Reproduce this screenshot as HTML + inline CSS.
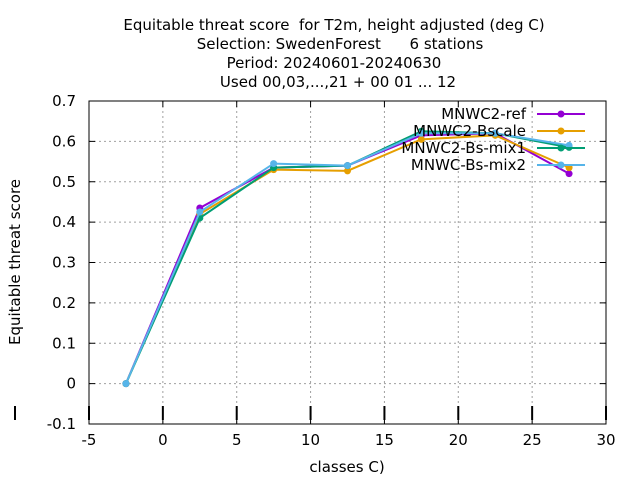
<!DOCTYPE html>
<html><head><meta charset="utf-8"><style>
body{margin:0;background:#fff}
svg{display:block;font-family:"DejaVu Sans",sans-serif}
text{white-space:pre}
</style></head><body>
<svg id="chart" width="640" height="480">
<g font-size="15" text-anchor="middle" fill="#000">
<text x="334" y="30">Equitable threat score  for T2m, height adjusted (deg C)</text>
<text x="340" y="49">Selection: SwedenForest      6 stations</text>
<text x="334" y="68">Period: 20240601-20240630</text>
<text x="338" y="87">Used 00,03,...,21 + 00 01 ... 12</text>
</g>
<g id="grid"></g>
<g id="axes"></g>
<g id="series"></g>
<g id="legend"></g>
<text x="20" y="262" font-size="15" text-anchor="middle" transform="rotate(-90 20 262)">Equitable threat score</text>
<text x="347" y="472" font-size="15" text-anchor="middle">classes C)</text>
</svg>
<script>
const xCats=[-2.5,2.5,7.5,12.5,17.5,22.5,27.5];
const seriesNames=["MNWC2-ref","MNWC2-Bscale","MNWC2-Bs-mix1","MNWC-Bs-mix2"];
const refVals=[0,0.435,0.535,0.54,0.615,0.62,0.52];
const bscaleVals=[0,0.42,0.53,0.527,0.605,0.615,0.535];
const mix1Vals=[0,0.41,0.535,0.54,0.625,0.62,0.585];
const mix2Vals=[0,0.425,0.545,0.54,0.62,0.62,0.59];
const xTicks=[-5,0,5,10,15,20,25,30];
const yTicks=[-0.1,0,0.1,0.2,0.3,0.4,0.5,0.6,0.7];
const colors=["#9400d3","#e69f00","#009e73","#56b4e9"];
const X0=89,X1=606,Y0=424,Y1=101;
const sx=v=>X0+(v+5)/35*(X1-X0);
const sy=v=>Y0-(v+0.1)/0.8*(Y0-Y1);
const NS="http://www.w3.org/2000/svg";
function mk(p,t,a){const e=document.createElementNS(NS,t);for(const k in a)e.setAttribute(k,a[k]);p.appendChild(e);return e;}
const grid=document.getElementById('grid'),axes=document.getElementById('axes');
xTicks.forEach(t=>{const x=sx(t);
 if(t>-5&&t<30){const l=mk(grid,'line',{x1:x,y1:Y1,x2:x,y2:Y0,stroke:'#a0a0a0','stroke-dasharray':'2,3'});
 
 }
 mk(axes,'line',{x1:x,y1:Y0,x2:x,y2:Y0-6,stroke:'#000'});mk(axes,'line',{x1:x,y1:Y1,x2:x,y2:Y1+6,stroke:'#000'});
 mk(axes,'line',{x1:x,y1:406,x2:x,y2:420,stroke:'#000','stroke-width':2});
 const tx=mk(axes,'text',{x:x,y:445,'font-size':15,'text-anchor':'middle'});tx.textContent=t;
 
 });
mk(axes,'line',{x1:15,y1:406,x2:15,y2:420,stroke:'#000','stroke-width':2});
yTicks.forEach(t=>{const y=sy(t);
 if(t>-0.1&&t<0.7){const l=mk(grid,'line',{x1:X0,y1:y,x2:X1,y2:y,stroke:'#a0a0a0','stroke-dasharray':'2,3'});
 
 }
 mk(axes,'line',{x1:X0,y1:y,x2:X0+6,y2:y,stroke:'#000'});mk(axes,'line',{x1:X1,y1:y,x2:X1-6,y2:y,stroke:'#000'});
 const tx=mk(axes,'text',{x:76,y:y+5,'font-size':15,'text-anchor':'end'});tx.textContent=(Math.round(t*10)/10).toString();
 
 });
mk(axes,'rect',{x:X0,y:Y1,width:X1-X0,height:Y0-Y1,fill:'none',stroke:'#000'});
const ser=document.getElementById('series'),leg=document.getElementById('legend');
[refVals,bscaleVals,mix1Vals,mix2Vals].forEach((vals,i)=>{
 const g=mk(ser,'g',{});
 
 
 mk(g,'polyline',{points:xCats.map((c,j)=>sx(c)+','+sy(vals[j])).join(' '),fill:'none',stroke:colors[i],'stroke-width':2});
 xCats.forEach((c,j)=>{const p=mk(g,'circle',{cx:sx(c),cy:sy(vals[j]),r:3.5,fill:colors[i]});
  
  });
 const ly=114+i*17;
 const t=mk(leg,'text',{x:526,y:ly+5,'font-size':15,'text-anchor':'end'});t.textContent=seriesNames[i];
 
 
 mk(leg,'line',{x1:537,y1:ly,x2:585,y2:ly,stroke:colors[i],'stroke-width':2});
 mk(leg,'circle',{cx:561,cy:ly,r:3.5,fill:colors[i]});
});
</script>
</body></html>
